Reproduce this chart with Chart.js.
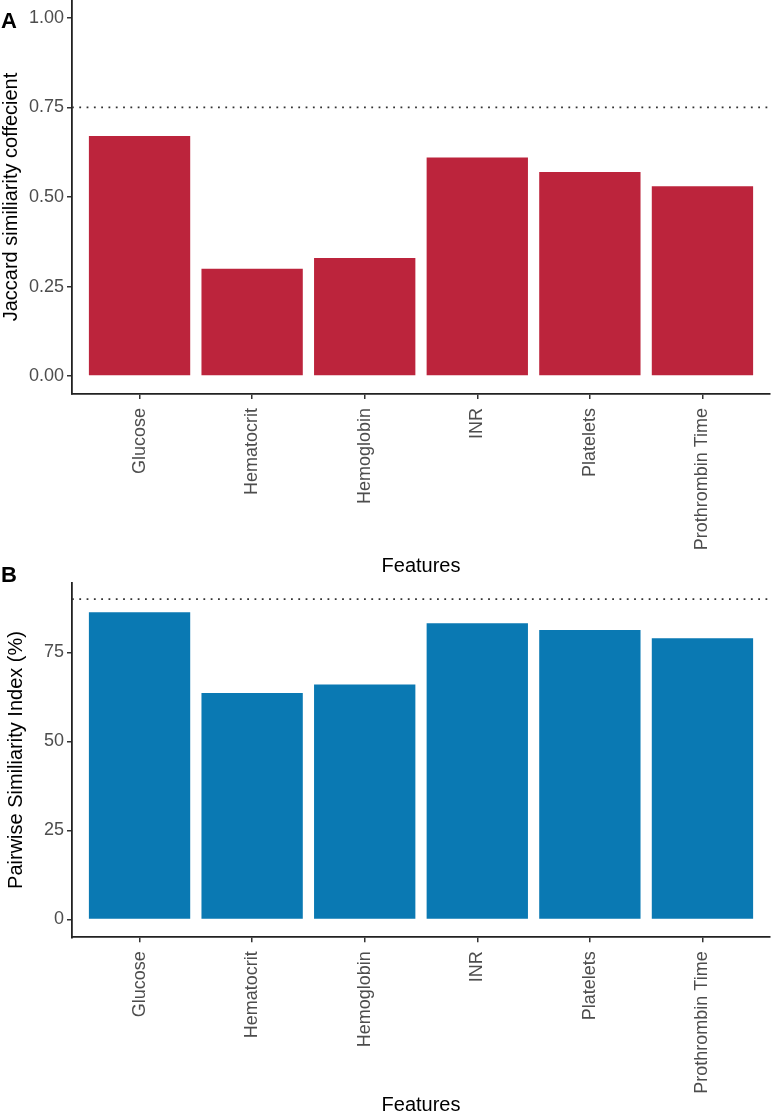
<!DOCTYPE html>
<html><head><meta charset="utf-8">
<script src="https://cdn.jsdelivr.net/npm/chart.js@4.4.0/dist/chart.umd.min.js"></script>
<style>
html,body{margin:0;padding:0;background:#fff;width:771px;height:1115px;overflow:hidden;position:relative;}
canvas{position:absolute;left:0;}
#cA{top:0;}
#cB{top:560px;}
.panel{position:absolute;left:1px;font:bold 22px "Liberation Sans",Arial,sans-serif;line-height:22px;color:#000;}
</style></head><body>
<canvas id="cA" width="771" height="580"></canvas>
<canvas id="cB" width="771" height="555"></canvas>
<div class="panel" style="top:10px">A</div>
<div class="panel" style="top:564px">B</div>
<script>
const categories = ['Glucose', 'Hematocrit', 'Hemoglobin', 'INR', 'Platelets', 'Prothrombin Time'];
const jaccardValues = [0.67, 0.30, 0.33, 0.61, 0.57, 0.53];
const pairwiseValues = [86.3, 63.6, 66.0, 83.2, 81.3, 79.0];
const jaccardThreshold = 0.75;
const pairwiseThreshold = 90;
const jaccardTicks = [0, 0.25, 0.5, 0.75, 1.0];
const jaccardTickLabels = ['0.00', '0.25', '0.50', '0.75', '1.00'];
const pairwiseTicks = [0, 25, 50, 75];
const pairwiseTickLabels = ['0', '25', '50', '75'];
const xLabel = 'Features';
const jaccardTitle = 'Jaccard similiarity coffecient';
const pairwiseTitle = 'Pairwise Similiarity Index (%)';

const FONT = '"Liberation Sans", Arial, Helvetica, sans-serif';
const X_MIN = 0.4, X_MAX = categories.length + 0.6;

function makePanel(canvas, cfg) {
  const H = canvas.height;
  return new Chart(canvas, {
    data: {
      datasets: [
        {
          type: 'bar',
          data: cfg.values.map((v, i) => ({x: i + 1, y: v})),
          backgroundColor: cfg.color,
          borderWidth: 0,
          barPercentage: 0.9,
          categoryPercentage: 1.0,
          order: 2
        },
        {
          type: 'line',
          data: [{x: X_MIN, y: cfg.threshold}, {x: X_MAX, y: cfg.threshold}],
          borderColor: '#333333',
          borderWidth: 1.8,
          borderDash: [1.8, 5.5],
          pointRadius: 0,
          fill: false,
          order: 1
        }
      ]
    },
    options: {
      responsive: false,
      animation: false,
      events: [],
      layout: {padding: {top: cfg.padTop, right: 1, left: 0, bottom: 0}},
      plugins: {legend: {display: false}, tooltip: {enabled: false}},
      scales: {
        x: {
          type: 'linear',
          offset: false,
          min: X_MIN, max: X_MAX,
          afterBuildTicks: s => { s.ticks = categories.map((c, i) => ({value: i + 1})); },
          afterFit: s => { s.height = H - cfg.plotBottom; s.paddingLeft = 0; s.paddingRight = 0; },
          ticks: {
            callback: (v, i) => categories[i],
            autoSkip: false, minRotation: 90, maxRotation: 90,
            padding: 9, color: '#4d4d4d',
            font: {family: FONT, size: 18}
          },
          grid: {offset: false, drawOnChartArea: false, drawTicks: true, tickLength: 5, color: '#333333', lineWidth: 1.5},
          border: {display: true, color: '#222222', width: 1.8},
          title: {display: true, text: xLabel, color: '#000', font: {family: FONT, size: 20, lineHeight: 1}, padding: {top: 0, bottom: cfg.xTitlePad}}
        },
        y: {
          type: 'linear',
          min: cfg.yMin, max: cfg.yMax,
          afterBuildTicks: s => { s.ticks = cfg.ticks.map(v => ({value: v})); },
          afterFit: s => { s.width = 72; s.paddingTop = 0; s.paddingBottom = 0; },
          ticks: {
            callback: (v, i) => cfg.tickLabels[i],
            padding: 3, color: '#4d4d4d',
            font: {family: FONT, size: 18}
          },
          grid: {drawOnChartArea: false, drawTicks: true, tickLength: 5, color: '#333333', lineWidth: 1.5},
          border: {display: true, color: '#222222', width: 1.8},
          title: {display: true, text: cfg.title, color: '#000', font: {family: FONT, size: 20, lineHeight: 1}, padding: {top: cfg.yTitlePad, bottom: 0}}
        }
      }
    }
  });
}

makePanel(document.getElementById('cA'), {
  values: jaccardValues, color: '#BC243C', threshold: jaccardThreshold,
  yMin: -0.05, yMax: 1.05, ticks: jaccardTicks, tickLabels: jaccardTickLabels,
  title: jaccardTitle, padTop: 0, plotBottom: 394, xTitlePad: 4, yTitlePad: 1
});
makePanel(document.getElementById('cB'), {
  values: pairwiseValues, color: '#0A79B3', threshold: pairwiseThreshold,
  yMin: -5, yMax: 94.6, ticks: pairwiseTicks, tickLabels: pairwiseTickLabels,
  title: pairwiseTitle, padTop: 22.7, plotBottom: 377.3, xTitlePad: 0, yTitlePad: 6
});
</script>
</body></html>
